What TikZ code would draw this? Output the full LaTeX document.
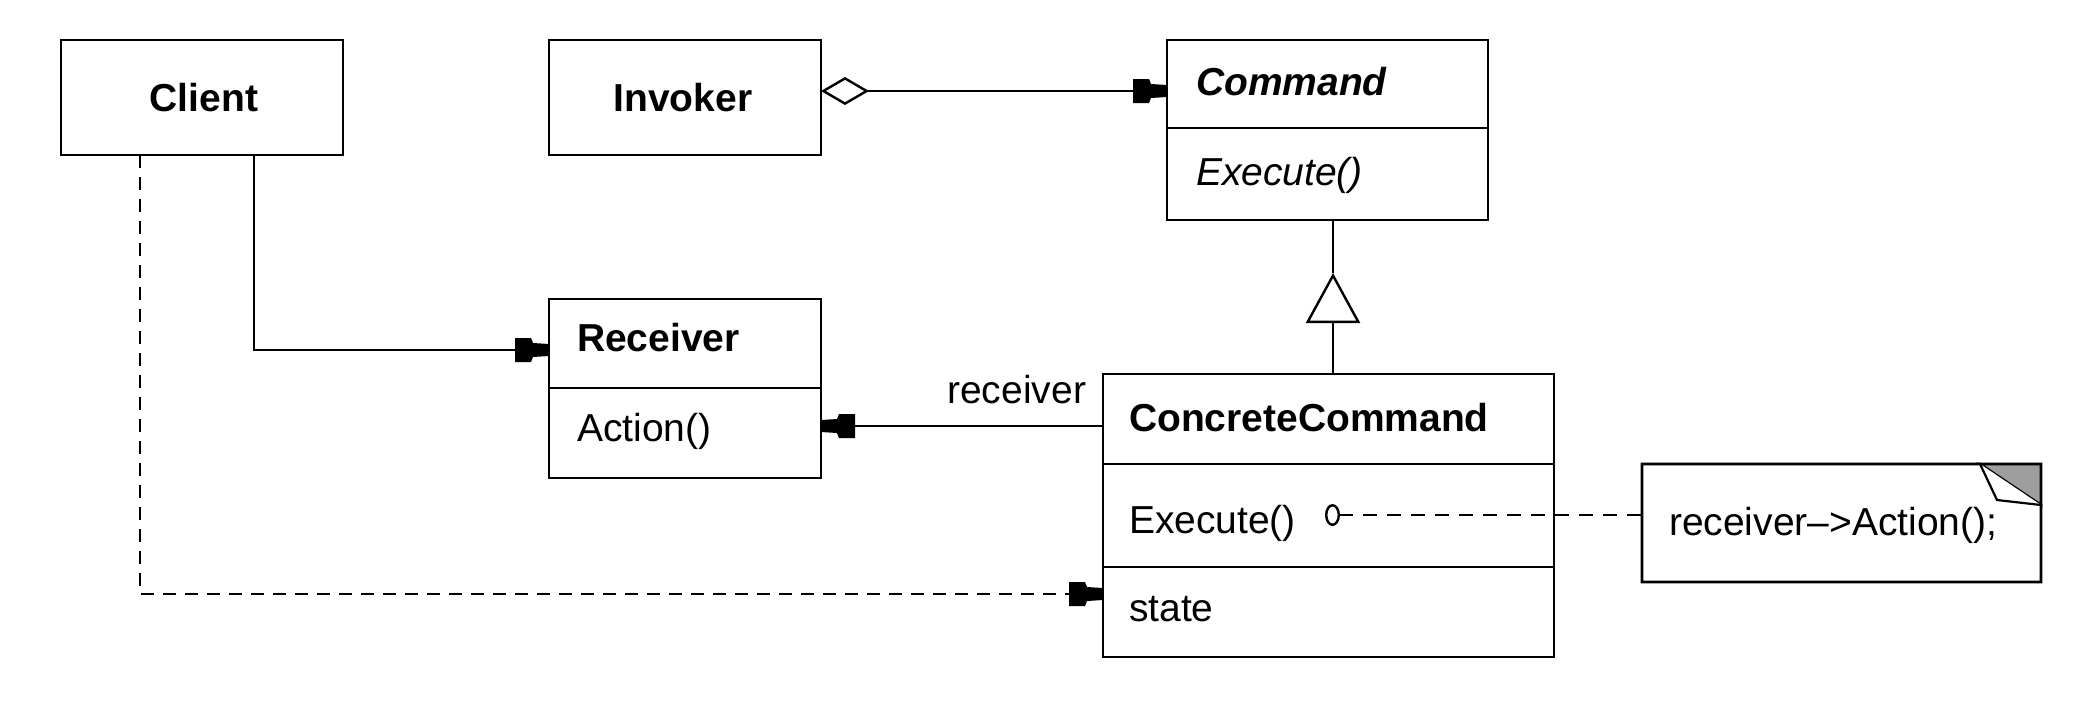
\documentclass[tikz,border=0pt]{standalone}
\usepackage{fontspec}
\setmainfont{Liberation Sans}
\usetikzlibrary{arrows.meta}

% solid navigation arrow head used on the associations
\pgfdeclarearrow{
  name = NavHead,
  parameters = {},
  setup code = {
    \pgfarrowssettipend{0pt}
    \pgfarrowssetlineend{-14pt}
    \pgfarrowssetbackend{-17pt}
    \pgfarrowshullpoint{0pt}{3pt}
    \pgfarrowshullpoint{0pt}{-3pt}
    \pgfarrowshullpoint{-17pt}{6pt}
    \pgfarrowshullpoint{-17pt}{-6pt}
  },
  drawing code = {
    \pgfpathmoveto{\pgfpoint{0pt}{3pt}}
    \pgfpathlineto{\pgfpoint{-8pt}{3.5pt}}
    \pgfpathlineto{\pgfpoint{-9pt}{6pt}}
    \pgfpathlineto{\pgfpoint{-17pt}{6pt}}
    \pgfpathlineto{\pgfpoint{-17pt}{-6pt}}
    \pgfpathlineto{\pgfpoint{-9pt}{-6pt}}
    \pgfpathlineto{\pgfpoint{-8pt}{-3.5pt}}
    \pgfpathlineto{\pgfpoint{0pt}{-3pt}}
    \pgfpathclose
    \pgfusepathqfill
  }
}

\begin{document}
\begin{tikzpicture}[x=0.5pt, y=-0.5pt,
  frame/.style={draw=black, line width=1.3pt},
  classbox/.style={frame, fill=white, inner sep=0pt, outer sep=0pt},
  txt/.style={inner sep=0pt, outer sep=0pt, font=\fontsize{19.5pt}{23pt}\selectfont},
  link/.style={draw=black, line width=1.25pt},
  assoc/.style={link, -{NavHead}},
  depend/.style={link, dash pattern=on 6.5pt off 4.5pt, -{NavHead}},
  notelink/.style={link, dash pattern=on 7pt off 5pt, {Circle[open, length=7.5pt, width=11pt, line width=1.2pt]}-},
  aggr/.style={link, {Diamond[open, fill=white, length=24pt, width=14pt, line width=1.2pt]}-{NavHead}},
  inherit/.style={link, -{Triangle[open, fill=white, length=25pt, width=27pt, line width=1.2pt]}}
]
\useasboundingbox (0,0) rectangle (2082,720);

% ---- classes ----
\node[classbox, minimum width=141pt, minimum height=57.5pt] (client) at (202,97.5) {};
\node[classbox, minimum width=136pt, minimum height=57.5pt] (invoker) at (685,97.5) {};
\node[classbox, minimum width=160.5pt, minimum height=90pt] (command) at (1327.5,130) {};
\node[classbox, minimum width=136pt, minimum height=89.5pt] (receiver) at (685,388.5) {};
\node[classbox, minimum width=225.5pt, minimum height=141.5pt] (concrete) at (1328.5,515.5) {};

% compartment separators
\coordinate (sepCmd) at (0,128);
\coordinate (sepRcv) at (0,388);
\coordinate (sepCc1) at (0,464);
\coordinate (sepCc2) at (0,567);
\draw[frame] (command.west |- sepCmd) -- (command.east |- sepCmd);
\draw[frame] (receiver.west |- sepRcv) -- (receiver.east |- sepRcv);
\draw[frame] (concrete.west |- sepCc1) -- (concrete.east |- sepCc1);
\draw[frame] (concrete.west |- sepCc2) -- (concrete.east |- sepCc2);

% ---- note ----
\node[inner sep=0pt, outer sep=0pt, minimum width=199.5pt, minimum height=59pt] (note) at (1841.5,523) {};
\coordinate (foldA) at (1980,464);
\coordinate (foldB) at (2041,505);
\coordinate (foldC) at (1997,500);
\draw[frame, fill=white] (note.north west) -- (foldA) -- (foldB) -- (note.south east) -- (note.south west) -- cycle;
\draw[frame, fill=black!38] (foldA) -- (note.north east) -- (foldB) -- cycle;
\draw[line width=1.1pt, fill=white] (foldA) -- (foldC) -- (foldB);

% ---- texts ----
\node[txt, anchor=base] (tClient) at (204,111) {\bfseries Client};
\node[txt, anchor=base] (tInvoker) at (683,111) {\bfseries Invoker};
\node[txt, anchor=base west] (tCommand) at (1196,95) {\bfseries\itshape Command};
\node[txt, anchor=base west] (tCmdExec) at (1196,185) {\itshape Execute()};
\node[txt, anchor=base west] (tReceiver) at (577,351) {\bfseries Receiver};
\node[txt, anchor=base west] (tAction) at (577,441) {Action()};
\node[txt, anchor=base west] (tConcrete) at (1129,431) {\bfseries ConcreteCommand};
\node[txt, anchor=base west] (tCcExec) at (1129,533) {Execute()};
\node[txt, anchor=base west] (tState) at (1129,621) {state};
\node[txt, anchor=base west] (tNote) at (1669,535) {receiver\textendash>Action();};

% ---- connectors ----
\coordinate (kClientRcv) at (254,350);
\draw[assoc] (client.south -| kClientRcv) |- (receiver.west |- kClientRcv);

\coordinate (kInv) at (0,91);
\draw[aggr] (invoker.east |- kInv) -- (command.west |- kInv);

\coordinate (kGen) at (1333,273);
\draw[inherit] (concrete.north -| kGen) -- (kGen);
\draw[link] (kGen) -- (command.south -| kGen);

\coordinate (kRcv) at (0,426);
\draw[assoc] (concrete.west |- kRcv) -- (receiver.east |- kRcv)
  node[txt, pos=0, anchor=base east, xshift=-8.5pt, yshift=11.5pt] (tRole) {receiver};

\coordinate (kDep) at (140,594);
\draw[depend] (client.south -| kDep) |- (concrete.west |- kDep);

\coordinate (execdot) at (1325,515);
\draw[notelink] (execdot) -- (note.west |- execdot);

\end{tikzpicture}
\end{document}
